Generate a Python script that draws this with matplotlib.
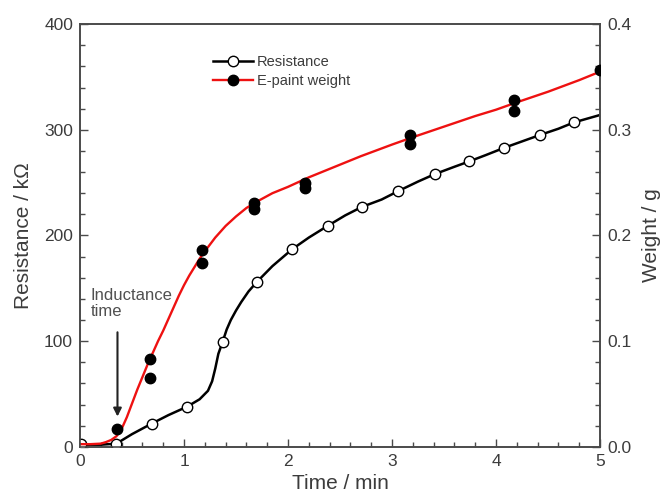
import matplotlib
matplotlib.use("Agg")
import matplotlib.pyplot as plt
from matplotlib.ticker import MultipleLocator

plt.rcParams['font.family'] = ['Liberation Sans', 'DejaVu Sans']

# resistance curve (kOhm)
res_line_t = [0, 0.2, 0.35, 0.5, 0.69, 0.85, 1.03, 1.15, 1.23, 1.27, 1.3, 1.33, 1.37, 1.41, 1.45,
              1.5, 1.55, 1.62, 1.70, 1.85, 2.04, 2.2, 2.38, 2.55, 2.71, 2.9, 3.06, 3.25, 3.41,
              3.6, 3.74, 3.9, 4.08, 4.25, 4.42, 4.6, 4.75, 5.0]
res_line_r = [2, 2, 3, 12, 22, 30, 38, 45, 53, 62, 74, 88, 99, 111, 120,
              129, 137, 147, 156, 171, 187, 198, 209, 219, 227, 234, 242, 251, 258,
              265, 270, 276, 283, 289, 295, 301, 307, 314]
res_pts_t = [0.01, 0.35, 0.69, 1.03, 1.37, 1.70, 2.04, 2.38, 2.71, 3.06, 3.41, 3.74, 4.08, 4.42, 4.75]
res_pts_r = [3, 3, 22, 38, 99, 156, 187, 209, 227, 242, 258, 270, 283, 295, 307]

# e-paint weight (g): fitted curve and measured points
wt_line_t = [0, 0.1, 0.2, 0.25, 0.3, 0.35, 0.4, 0.45, 0.5, 0.55, 0.6, 0.65, 0.7, 0.75, 0.8,
             0.85, 0.9, 0.95, 1.0, 1.05, 1.1, 1.15, 1.2, 1.3, 1.4, 1.5, 1.6, 1.7, 1.85, 2.0,
             2.2, 2.4, 2.7, 3.0, 3.2, 3.5, 3.8, 4.0, 4.2, 4.5, 4.8, 5.0]
wt_line_w = [0.0025, 0.0025, 0.003, 0.0045, 0.0065, 0.010, 0.017, 0.028, 0.041, 0.054, 0.066,
             0.078, 0.089, 0.100, 0.110, 0.121, 0.132, 0.143, 0.153, 0.162, 0.170, 0.178,
             0.185, 0.198, 0.209, 0.218, 0.226, 0.232, 0.240, 0.246, 0.255, 0.263, 0.275,
             0.286, 0.293, 0.303, 0.313, 0.319, 0.326, 0.336, 0.347, 0.355]
wt_pts_t = [0.36, 0.67, 0.67, 1.17, 1.17, 1.67, 1.67, 2.16, 2.16, 3.17, 3.17, 4.17, 4.17, 5.0]
wt_pts_w = [0.017, 0.083, 0.065, 0.186, 0.174, 0.231, 0.225, 0.250, 0.245, 0.295, 0.287,
            0.328, 0.318, 0.357]

txt = '#3c3c3c'
spine = '#4a4a4a'

fig = plt.figure(figsize=(6.67, 4.97), dpi=100)
ax = fig.add_axes([0.12, 0.101, 0.7796, 0.8505])
ax2 = ax.twinx()

ax.plot(res_line_t, res_line_r, color='black', lw=1.8, zorder=2)
ax.plot(res_pts_t, res_pts_r, 'o', ms=7.5, mfc='white', mec='black', mew=1.0, zorder=3)

ax2.plot(wt_line_t, wt_line_w, color='#ee1111', lw=1.7, zorder=2)
ax2.plot(wt_pts_t, wt_pts_w, 'o', ms=7.5, color='black', zorder=3)

ax.set_xlim(0, 5)
ax.set_ylim(0, 400)
ax2.set_ylim(0, 0.4)

ax.xaxis.set_major_locator(MultipleLocator(1))
ax.xaxis.set_minor_locator(MultipleLocator(0.2))
ax.yaxis.set_major_locator(MultipleLocator(100))
ax.yaxis.set_minor_locator(MultipleLocator(20))
ax2.yaxis.set_major_locator(MultipleLocator(0.1))
ax2.yaxis.set_minor_locator(MultipleLocator(0.02))
ax2.yaxis.set_major_formatter(matplotlib.ticker.FormatStrFormatter('%.1f'))

for a in (ax, ax2):
    a.tick_params(which='major', direction='in', length=6, width=1.0, color=spine,
                  labelsize=12.5, labelcolor=txt, pad=5)
    a.tick_params(which='minor', direction='in', length=3.5, width=1.0, color=spine)
    for s in a.spines.values():
        s.set_color(spine)
        s.set_linewidth(1.2)

ax.set_xlabel('Time / min', fontsize=15, color=txt, labelpad=4)
ax.set_ylabel('Resistance / k\u03a9', fontsize=15, color=txt, labelpad=8)
ax2.set_ylabel('Weight / g', fontsize=15, color=txt, labelpad=8)

ax.text(0.1, 150, 'Inductance\ntime', fontsize=12, color='#505050', va='top', ha='left',
        linespacing=1.05)
ax.annotate('', xy=(0.36, 26), xytext=(0.36, 111),
            arrowprops=dict(arrowstyle='-|>', color='#222222', lw=1.5, mutation_scale=12))

h1 = ax.plot([], [], '-o', color='black', ms=7.5, mfc='white', mec='black', lw=1.8)[0]
h2 = ax.plot([], [], '-o', color='#ee1111', ms=7.5, mfc='black', mec='black', lw=1.7)[0]
leg = ax2.legend([h1, h2], ['Resistance', 'E-paint weight'], loc='upper left',
                 bbox_to_anchor=(0.245, 0.94), frameon=False, fontsize=10.5,
                 handlelength=2.7, handletextpad=0.3, labelspacing=0.3, borderaxespad=0)
for t in leg.get_texts():
    t.set_color(txt)

fig.savefig('out.png', dpi=100)
